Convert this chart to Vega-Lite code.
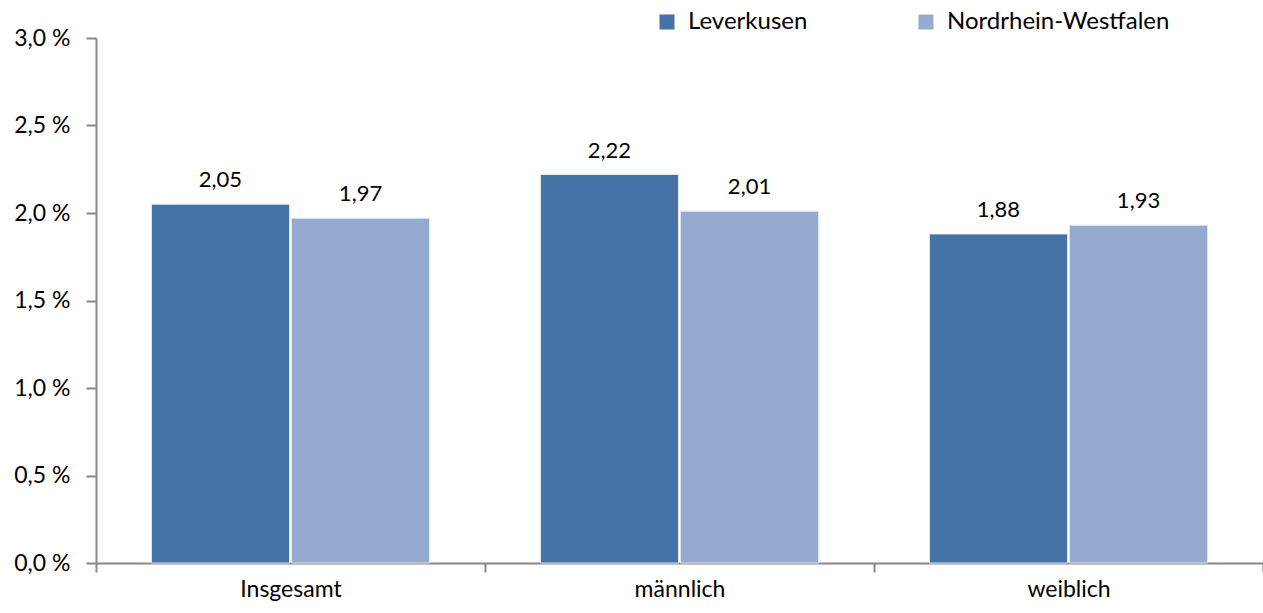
{
  "$schema": "https://vega.github.io/schema/vega-lite/v6.json",
  "autosize": "none",
  "width": 1167,
  "height": 525,
  "padding": {"left": 96, "top": 38, "right": 0, "bottom": 50},
  "background": "white",
  "config": {
    "view": {"stroke": null},
    "font": "Lato",
    "locale": {
      "number": {"decimal": ",", "thousands": ".", "grouping": [3], "currency": ["", " €"]}
    },
    "axis": {
      "labelFont": "Lato",
      "labelFontSize": 23,
      "labelColor": "#000000",
      "domainColor": "#878787",
      "domainWidth": 2,
      "tickColor": "#878787",
      "tickWidth": 2,
      "grid": false,
      "title": null
    },
    "legend": {"labelFont": "Lato", "labelFontSize": 24, "labelColor": "#000000", "labelLimit": 0}
  },
  "data": {
    "values": [
      {"gruppe": "Insgesamt", "gebiet": "Leverkusen", "wert": 2.05},
      {"gruppe": "Insgesamt", "gebiet": "Nordrhein-Westfalen", "wert": 1.97},
      {"gruppe": "männlich", "gebiet": "Leverkusen", "wert": 2.22},
      {"gruppe": "männlich", "gebiet": "Nordrhein-Westfalen", "wert": 2.01},
      {"gruppe": "weiblich", "gebiet": "Leverkusen", "wert": 1.88},
      {"gruppe": "weiblich", "gebiet": "Nordrhein-Westfalen", "wert": 1.93}
    ]
  },
  "encoding": {
    "x": {
      "field": "gruppe",
      "type": "nominal",
      "sort": ["Insgesamt", "männlich", "weiblich"],
      "scale": {"paddingInner": 0, "paddingOuter": 0},
      "axis": {"labelAngle": 0, "tickBand": "extent", "tickSize": 9, "labelPadding": 6}
    },
    "xOffset": {
      "field": "gebiet",
      "type": "nominal",
      "sort": ["Leverkusen", "Nordrhein-Westfalen"],
      "scale": {"paddingInner": 0.014, "paddingOuter": 0.396}
    },
    "y": {
      "field": "wert",
      "type": "quantitative",
      "scale": {"domain": [0, 3], "nice": false},
      "axis": {
        "values": [0, 0.5, 1, 1.5, 2, 2.5, 3],
        "labelExpr": "replace(format(datum.value, '.1f'), '.', ',') + ' %'",
        "tickSize": 10,
        "labelPadding": 16
      }
    }
  },
  "layer": [
    {
      "mark": {"type": "bar", "stroke": "#e6e6e6", "strokeWidth": 1},
      "encoding": {
        "color": {
          "field": "gebiet",
          "type": "nominal",
          "sort": ["Leverkusen", "Nordrhein-Westfalen"],
          "scale": {"range": ["#4573A7", "#95AACF"]},
          "legend": {
            "title": null,
            "orient": "none",
            "direction": "horizontal",
            "legendX": 559,
            "legendY": -28,
            "symbolType": "square",
            "symbolSize": 225,
            "symbolStrokeWidth": 0,
            "labelOffset": 9,
            "columnPadding": 106
          }
        }
      }
    },
    {
      "mark": {"type": "text", "baseline": "bottom", "dy": -12, "fontSize": 22, "font": "Lato", "color": "#000000"},
      "encoding": {
        "text": {"field": "wert", "type": "quantitative", "format": ".2f"}
      }
    }
  ]
}
